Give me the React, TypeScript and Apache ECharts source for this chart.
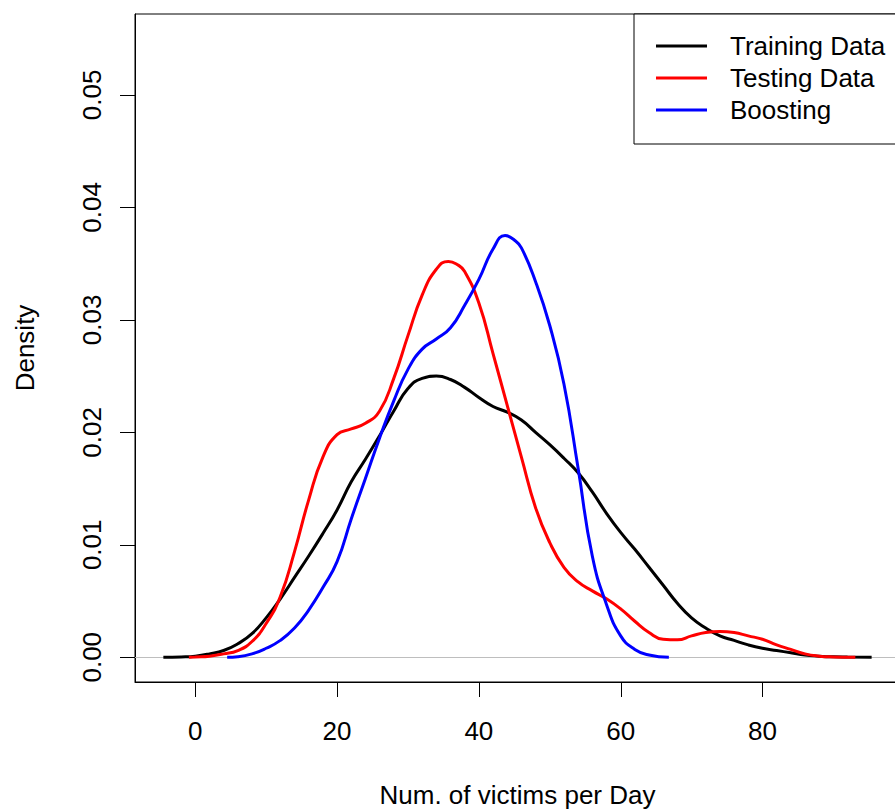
import React, { useEffect, useRef } from "react";
import * as echarts from "echarts";

const xTicks = [0, 20, 40, 60, 80];
const yTicks = [0, 0.01, 0.02, 0.03, 0.04, 0.05];

const seriesNames = ["Training Data", "Testing Data", "Boosting"];
const seriesColors = ["#000000", "#ff0000", "#0000ff"];

const trainX = [-4.5, -2, 0, 2, 4, 6, 8, 10, 12, 14, 16, 18, 20, 22, 24, 26, 28, 30, 32, 34, 36, 38, 40, 42, 44, 46, 48, 50, 52, 54, 56, 58, 60, 62, 64, 66, 68, 70, 72, 74, 76, 78, 80, 82, 84, 86, 88, 90, 92, 95.4];
const trainY = [0, 0.00003, 0.0001, 0.0003, 0.0006, 0.0012, 0.0021, 0.0035, 0.0052, 0.0071, 0.009, 0.011, 0.0131, 0.0156, 0.0176, 0.0197, 0.0219, 0.0239, 0.0248, 0.025, 0.0247, 0.024, 0.0231, 0.0223, 0.0218, 0.0211, 0.02, 0.0189, 0.0177, 0.0164, 0.0147, 0.0128, 0.0111, 0.0096, 0.008, 0.0064, 0.0048, 0.0035, 0.0026, 0.0019, 0.0015, 0.0011, 0.0008, 0.0006, 0.0004, 0.0002, 0.0001, 0.00004, 0.00002, 0];

const testX = [-0.9, 0, 2, 4, 6, 8, 10, 12, 14, 16, 18, 20, 22, 24, 26, 28, 30, 32, 34, 35.7, 37, 38, 40, 42, 44, 46, 48, 50, 52, 54, 56, 58, 60, 62, 64, 66, 68, 70, 72, 74, 76, 78, 80, 82, 84, 86, 88, 90, 93.1];
const testY = [0, 0.00003, 0.0001, 0.0003, 0.0006, 0.0014, 0.003, 0.0054, 0.0094, 0.014, 0.0178, 0.0198, 0.0203, 0.0208, 0.0219, 0.0248, 0.0286, 0.0322, 0.0345, 0.0352, 0.0349, 0.0343, 0.0315, 0.027, 0.0224, 0.0178, 0.0133, 0.0102, 0.008, 0.0067, 0.0059, 0.0052, 0.0043, 0.0032, 0.0022, 0.0016, 0.00155, 0.0019, 0.0022, 0.0023, 0.0022, 0.0019, 0.0016, 0.0011, 0.0007, 0.0003, 0.0001, 0.00003, 0];

const boostX = [4.5, 6, 8, 10, 12, 14, 16, 18, 20, 22, 24, 26, 28, 30, 32, 34, 36, 38, 40, 42, 43.7, 45, 46, 48, 50, 52, 54, 56, 58, 60, 62, 64, 66.8];
const boostY = [0, 0.00005, 0.0003, 0.0008, 0.0015, 0.0026, 0.0042, 0.0062, 0.0085, 0.0123, 0.0159, 0.0195, 0.0228, 0.0256, 0.0274, 0.0283, 0.0293, 0.0313, 0.0336, 0.0363, 0.0375, 0.0371, 0.0364, 0.0334, 0.0295, 0.0243, 0.0168, 0.009, 0.0047, 0.0019, 0.0007, 0.0002, 0];

const xLabel = "Num. of victims per Day";
const yLabel = "Density";

const X_MIN = -8.5;
const X_MAX = 99.4;
const Y_MIN = -0.0022;
const Y_MAX = 0.0572;

const FONT = "'Liberation Sans', Arial, sans-serif";
const TICK_LEN = 15;

function pairs(xs: number[], ys: number[]) {
  return xs.map((x, i) => [x, ys[i]]);
}

export default function App() {
  const ref = useRef<HTMLDivElement>(null);
  useEffect(() => {
    document.body.style.margin = "0";
    if (!ref.current) return;
    const chart = echarts.init(ref.current, undefined, { renderer: "svg" });
    const datasets = [pairs(trainX, trainY), pairs(testX, testY), pairs(boostX, boostY)];
    const lineSeries = seriesNames.map((name, i) => ({
      name,
      type: "line",
      data: datasets[i],
      showSymbol: false,
      symbol: "none",
      smooth: 0.5,
      color: seriesColors[i],
      itemStyle: { color: seriesColors[i] },
      lineStyle: { color: seriesColors[i], width: 3 },
      z: 3 + i,
      silent: true,
      markLine:
        i === 0
          ? {
              silent: true,
              symbol: "none",
              label: { show: false },
              lineStyle: { color: "#bebebe", width: 1, type: "solid" },
              data: [{ yAxis: 0 }],
              z: 1,
            }
          : undefined,
    }));
    chart.setOption({
      animation: false,
      textStyle: { fontFamily: FONT },
      grid: {
        left: 135,
        right: -5,
        top: 14,
        bottom: 128,
        show: true,
        borderColor: "#000",
        borderWidth: 1,
        backgroundColor: "transparent",
        containLabel: false,
        outerBoundsMode: "none",
      },
      legend: {
        orient: "vertical",
        left: 634,
        top: 14,
        padding: [19, 60, 21, 22],
        backgroundColor: "#fff",
        borderColor: "#000",
        borderWidth: 1,
        borderRadius: 0,
        itemWidth: 51,
        itemHeight: 3,
        itemGap: 6,
        icon: "rect",
        textStyle: {
          fontSize: 26,
          fontFamily: FONT,
          color: "#000",
          lineHeight: 26,
          padding: [0, 0, 0, 18],
        },
        data: seriesNames,
      },
      xAxis: {
        type: "value",
        min: X_MIN,
        max: X_MAX,
        name: xLabel,
        nameLocation: "middle",
        nameGap: 102,
        nameTextStyle: { fontSize: 26, color: "#000", fontFamily: FONT, lineHeight: 22 },
        axisLine: { show: true, onZero: false, lineStyle: { color: "#000", width: 1 } },
        splitLine: { show: false },
        axisTick: { show: false },
        axisLabel: {
          customValues: xTicks,
          fontSize: 26,
          color: "#000",
          margin: 36,
          fontFamily: FONT,
        },
      },
      yAxis: {
        type: "value",
        min: Y_MIN,
        max: Y_MAX,
        name: yLabel,
        nameLocation: "middle",
        nameGap: 97,
        nameRotate: 90,
        nameTextStyle: { fontSize: 26, color: "#000", fontFamily: FONT },
        axisLine: { show: true, onZero: false, lineStyle: { color: "#000", width: 1 } },
        splitLine: { show: false },
        axisTick: { show: false },
        axisLabel: {
          customValues: yTicks,
          rotate: 90,
          fontSize: 26,
          color: "#000",
          margin: 30,
          fontFamily: FONT,
          formatter: (v: number) => v.toFixed(2),
        },
      },
      series: lineSeries,
    });

    // Tick marks, positioned through the grid's own coordinate conversion
    const toPx = (x: number, y: number): number[] => {
      const r = chart.convertToPixel({ gridIndex: 0 }, [x, y]) as any;
      return Array.isArray(r) ? r : [NaN, NaN];
    };
    const tickEls: any[] = [];
    xTicks.forEach((v) => {
      const p = toPx(v, Y_MIN);
      const x = Math.round(p[0]) + 0.5;
      const y = Math.round(p[1]);
      tickEls.push({
        type: "line",
        silent: true,
        z: 100,
        shape: { x1: x, y1: y, x2: x, y2: y + TICK_LEN },
        style: { stroke: "#000000", lineWidth: 1, fill: null },
      });
    });
    yTicks.forEach((v) => {
      const p = toPx(X_MIN, v);
      const x = Math.round(p[0]);
      const y = Math.round(p[1]) + 0.5;
      tickEls.push({
        type: "line",
        silent: true,
        z: 100,
        shape: { x1: x - TICK_LEN, y1: y, x2: x, y2: y },
        style: { stroke: "#000000", lineWidth: 1, fill: null },
      });
    });
    chart.setOption({ graphic: { elements: tickEls } });

    return () => chart.dispose();
  }, []);
  return <div ref={ref} style={{ width: 895, height: 810 }} />;
}
